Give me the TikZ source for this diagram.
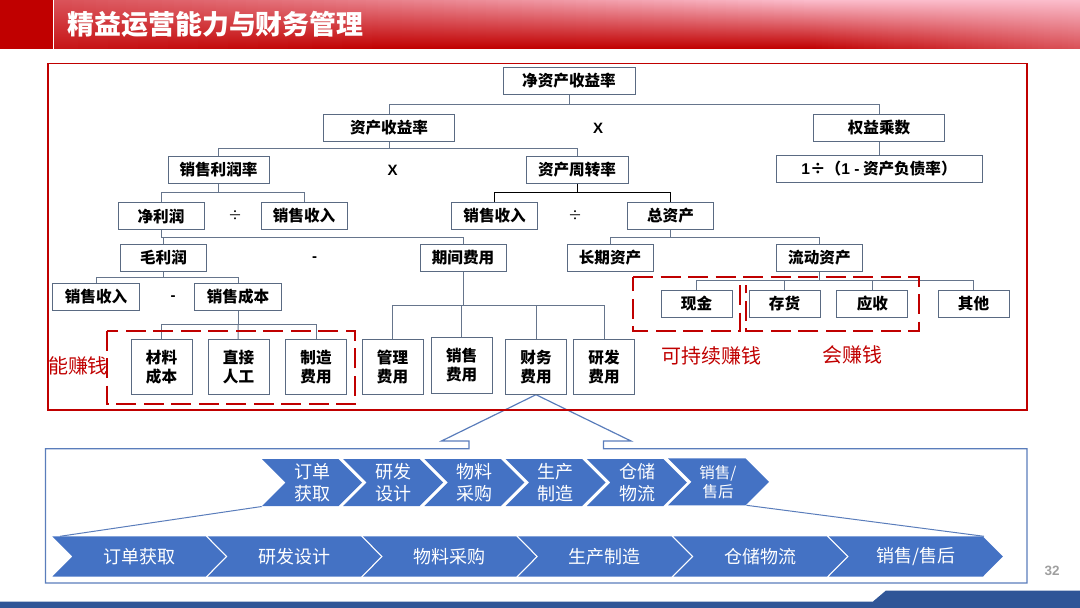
\documentclass[tikz,border=0pt]{standalone}
\usepackage{fontspec}
\setmainfont{Noto Sans CJK SC}
\newfontfamily\latinfont{Liberation Sans}
\definecolor{barred}{HTML}{C00000}
\definecolor{barpink}{HTML}{FBBCCB}
\definecolor{framered}{HTML}{C00000}
\definecolor{frameblue}{HTML}{5A7DBB}
\definecolor{chevblue}{HTML}{4472C4}
\definecolor{linkgrey}{HTML}{66758C}
\definecolor{boxgrey}{HTML}{5A6A82}
\definecolor{footblue}{HTML}{2F5597}
\tikzset{
	cellbox/.style = {draw = boxgrey, line width = 1pt, fill = white, inner sep = 0pt, minimum height = 27pt, font = \fontsize{15.6}{19}\selectfont\bfseries, align = center},
	linkline/.style = {draw = linkgrey, line width = 1pt},
	opnode/.style = {font = \fontsize{15}{16}\latinfont\bfseries},
	dashframe/.style = {draw = framered, line width = 2pt, dash pattern = on 20pt off 7.5pt},
	redlabel/.style = {text = framered, font = \fontsize{20}{22}\selectfont},
	chevtext/.style = {text = white, font = \fontsize{18}{21.5}\selectfont, align = center},
}
\begin{document}
\begin{tikzpicture}[x = 1pt, y = -1pt]
	\useasboundingbox (0, 0) rectangle (1080, 608);

	\fill[barred] (0, 0) rectangle (52.5, 48.5);
	\foreach \x in {54, 60, ..., 1080}{
		\pgfmathtruncatemacro{\pcttop}{min(100, 40 + 0.075*\x)}
		\pgfmathtruncatemacro{\pctmid}{min(85, 20 + 0.03*\x + max(0, \x - 500)*0.1)}
		\pgfmathtruncatemacro{\pctbot}{max(0, (\x - 800)*0.16) + max(0, (400 - \x)*0.034)}
		\shade[top color = barpink!\pcttop!barred, middle color = barpink!\pctmid!barred, bottom color = barpink!\pctbot!barred] (\x, 0) rectangle (\x + 7, 48.5);
	}
	\node[anchor = west, text = white, font = \fontsize{26.9}{30}\selectfont\bfseries, inner sep = 0pt] (titletext) at (67.5, 24){精益运营能力与财务管理};

	\fill[footblue] (0, 601.5) -- (873, 601.5) -- (886, 590.5) -- (1080, 590.5) -- (1080, 608) -- (0, 608) -- cycle;
	\node[text = gray!75, font = \fontsize{13.5}{15}\latinfont\bfseries] (pagenum) at (1052, 571){32};

	\draw[frameblue, line width = 1.2pt] (45.5, 448.7) -- (469, 448.7) -- (469, 441) -- (441.5, 441) -- (536, 394.7) -- (631, 441) -- (603.4, 441) -- (603.4, 448.7) -- (1027, 448.7) -- (1027, 583) -- (45.5, 583) -- cycle;
	\draw[framered, line width = 1.1pt] (48, 63.5) rectangle (1027, 410);

	\node[cellbox, minimum width = 132pt] (rootbox) at (569, 81){净资产收益率};
	\node[cellbox, minimum width = 131pt] (roabox) at (389, 128){资产收益率};
	\node[opnode] (timesa) at (598, 128){X};
	\node[cellbox, minimum width = 131pt] (equitybox) at (879, 128){权益乘数};
	\node[cellbox, minimum width = 206pt] (debtbox) at (879, 168.5){{\latinfont 1}÷（{\latinfont 1 -} 资产负债率）};
	\node[cellbox, minimum width = 101pt] (marginbox) at (218.5, 169.5){销售利润率};
	\node[opnode] (timesb) at (392.5, 170){X};
	\node[cellbox, minimum width = 102pt] (turnbox) at (577, 169.5){资产周转率};
	\node[cellbox, minimum width = 86pt] (netbox) at (161, 216){净利润};
	\node[opnode, font = \fontsize{14}{16}\selectfont] (diva) at (235, 216){÷};
	\node[cellbox, minimum width = 86pt] (revabox) at (304, 216){销售收入};
	\node[cellbox, minimum width = 86pt] (revbbox) at (494.6, 216){销售收入};
	\node[opnode, font = \fontsize{14}{16}\selectfont] (divb) at (575, 216){÷};
	\node[cellbox, minimum width = 86pt] (totalbox) at (670.5, 216){总资产};
	\node[cellbox, minimum width = 86pt] (grossbox) at (163.5, 257.5){毛利润};
	\node[opnode] (minusa) at (314.7, 259){-};
	\node[cellbox, minimum width = 86pt] (periodbox) at (463, 257.5){期间费用};
	\node[cellbox, minimum width = 86pt] (longbox) at (610, 257.5){长期资产};
	\node[cellbox, minimum width = 86.5pt] (currentbox) at (819.4, 257.5){流动资产};
	\node[cellbox, minimum width = 86.5pt] (revcbox) at (96, 297){销售收入};
	\node[opnode] (minusb) at (173, 298.5){-};
	\node[cellbox, minimum width = 86.5pt] (costbox) at (238, 297){销售成本};
	\node[cellbox, minimum width = 61pt, minimum height = 55.4pt] (matbox) at (161.5, 367){材料\\成本};
	\node[cellbox, minimum width = 61pt, minimum height = 55.4pt] (labourbox) at (238.5, 367){直接\\人工};
	\node[cellbox, minimum width = 61pt, minimum height = 55.4pt] (mfgbox) at (316, 367){制造\\费用};
	\node[cellbox, minimum width = 61pt, minimum height = 55.4pt] (mgmtbox) at (392.5, 367){管理\\费用};
	\node[cellbox, minimum width = 61pt, minimum height = 55.4pt] (sellbox) at (461.7, 365.3){销售\\费用};
	\node[cellbox, minimum width = 61pt, minimum height = 55.4pt] (finbox) at (536, 367){财务\\费用};
	\node[cellbox, minimum width = 61pt, minimum height = 55.4pt] (rndbox) at (604, 367){研发\\费用};
	\node[cellbox, minimum width = 71pt] (cashbox) at (696.5, 303.6){现金};
	\node[cellbox, minimum width = 71pt] (stockbox) at (784.5, 303.6){存货};
	\node[cellbox, minimum width = 71pt] (recvbox) at (872.4, 303.6){应收};
	\node[cellbox, minimum width = 71pt] (otherbox) at (973.5, 303.6){其他};

	\coordinate (busroot) at (569, 104);
	\coordinate (busroa) at (389, 148.7);
	\coordinate (busmargin) at (218.5, 192.7);
	\coordinate (busturn) at (577, 192.7);
	\coordinate (busnet) at (161, 237);
	\coordinate (bustotal) at (670.5, 237);
	\coordinate (busgross) at (163.5, 277.7);
	\coordinate (buscost) at (238, 324.7);
	\coordinate (busperiod) at (463, 305);
	\coordinate (buscurrent) at (819.4, 280.7);

	\draw[linkline] (rootbox) -- (busroot);
	\draw[linkline] (busroot) -| (roabox);
	\draw[linkline] (busroot) -| (equitybox);
	\draw[linkline] (equitybox) -- (debtbox);
	\draw[linkline] (roabox) -- (busroa);
	\draw[linkline] (busroa) -| (marginbox);
	\draw[linkline] (busroa) -| (turnbox);
	\draw[linkline] (marginbox) -- (busmargin);
	\draw[linkline] (busmargin) -| (netbox);
	\draw[linkline] (busmargin) -| (revabox);
	\draw[linkline, draw = black] (turnbox) -- (busturn);
	\draw[linkline, draw = black] (busturn) -| (revbbox);
	\draw[linkline, draw = black] (busturn) -| (totalbox);
	\draw[linkline] (netbox) -- (busnet);
	\draw[linkline] (busnet) -| (grossbox);
	\draw[linkline] (busnet) -| (periodbox);
	\draw[linkline] (totalbox) -- (bustotal);
	\draw[linkline] (bustotal) -| (longbox);
	\draw[linkline] (bustotal) -| (currentbox);
	\draw[linkline] (grossbox) -- (busgross);
	\draw[linkline] (busgross) -| (revcbox);
	\draw[linkline] (busgross) -| (costbox);
	\draw[linkline] (costbox) -- (buscost);
	\draw[linkline] (buscost) -| (matbox);
	\draw[linkline] (buscost) -- (labourbox);
	\draw[linkline] (buscost) -| (mfgbox);
	\draw[linkline] (periodbox) -- (busperiod);
	\draw[linkline] (busperiod) -| (mgmtbox);
	\draw[linkline] (busperiod) -| (sellbox);
	\draw[linkline] (busperiod) -| (finbox);
	\draw[linkline] (busperiod) -| (rndbox);
	\draw[linkline] (currentbox) -- (buscurrent);
	\draw[linkline] (buscurrent) -| (cashbox);
	\draw[linkline] (buscurrent) -| (stockbox);
	\draw[linkline] (buscurrent) -| (recvbox);
	\draw[linkline] (buscurrent) -| (otherbox);

	\draw[dashframe] (107.4, 330.7) rectangle (355.4, 404.3);
	\draw[dashframe] (633, 277.3) -- (918.8, 277.3) -- (918.8, 331) -- (746, 331) -- (746, 285);
	\draw[dashframe] (739.7, 285) -- (739.7, 331) -- (633, 331) -- (633, 277.3);
	\node[redlabel] (ablelabel) at (78, 366){能赚钱};
	\node[redlabel] (lastlabel) at (711.5, 356){可持续赚钱};
	\node[redlabel] (canlabel) at (852, 355){会赚钱};

	\foreach \x/\chevtxt/\chevname in {262/订单\\获取/chevua, 343.2/研发\\设计/chevub, 424.4/物料\\采购/chevuc, 505.6/生产\\制造/chevud, 586.8/仓储\\物流/chevue}{
		\fill[chevblue] (\x, 459) -- ++(76.5, 0) -- ++(23.5, 23.5) -- ++(-23.5, 23.5) -- ++(-76.5, 0) -- ++(23.5, -23.5) -- cycle;
		\node[chevtext] (\chevname) at (\x + 50.3, 482.5){\chevtxt};
	}
	\fill[chevblue] (668, 458.3) -- ++(77.5, 0) -- ++(23.5, 23.5) -- ++(-23.5, 23.5) -- ++(-77.5, 0) -- ++(23.5, -23.5) -- cycle;
	\node[chevtext, font = \fontsize{15.5}{19}\selectfont] (chevuf) at (718, 482.5){销售/\\售后};

	\foreach \x/\chevtxt/\chevname in {52.3/订单获取/chevla, 207.6/研发设计/chevlb, 362.9/物料采购/chevlc, 518.2/生产制造/chevld, 673.5/仓储物流/chevle}{
		\fill[chevblue] (\x, 536.3) -- ++(153.3, 0) -- ++(20, 20.2) -- ++(-20, 20.2) -- ++(-153.3, 0) -- ++(20, -20.2) -- cycle;
		\node[chevtext] (\chevname) at (\x + 86.7, 556.7){\chevtxt};
	}
	\fill[chevblue] (828.8, 536.3) -- ++(154, 0) -- ++(20, 20.2) -- ++(-20, 20.2) -- ++(-154, 0) -- ++(20, -20.2) -- cycle;
	\node[chevtext] (chevlf) at (916, 556.7){销售/售后};
	\draw[frameblue, line width = 1pt] (261.7, 506.5) -- (60, 536.3);
	\draw[frameblue, line width = 1pt] (746.5, 505.3) -- (984, 536.3);
\end{tikzpicture}
\end{document}
